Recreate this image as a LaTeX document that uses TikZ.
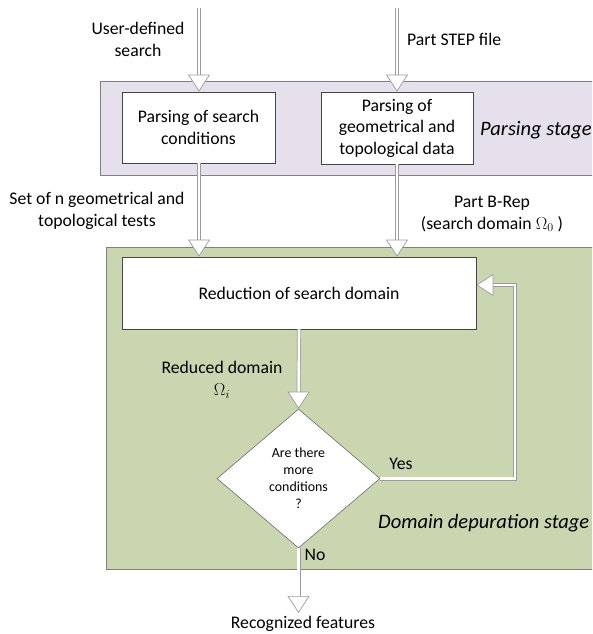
\documentclass[tikz,border=0pt]{standalone}
\usepackage{fontspec}
\setmainfont{Carlito}
\usepackage{tikz}
\usetikzlibrary{calc,positioning,arrows.meta,shapes.geometric,backgrounds}
\definecolor{parsefill}{RGB}{230,224,236}
\definecolor{depurfill}{RGB}{202,214,176}
\definecolor{bandline}{RGB}{128,128,128}
\definecolor{boxline}{RGB}{70,70,70}
\definecolor{flowline}{RGB}{155,155,155}
\tikzset{
  stageband/.style={
      draw=bandline,
      line width=0.8pt,
  },
  procbox/.style={
      draw=boxline,
      fill=white,
      line width=0.7pt,
      align=center,
      inner sep=0pt,
      font=\fontsize{17.7}{21.5}\selectfont,
  },
  decision/.style={
      diamond,
      draw=boxline!80,
      fill=white,
      line width=0.6pt,
      inner sep=0pt,
      aspect=1.17,
      minimum width=163pt,
      minimum height=139pt,
      align=center,
      font=\fontsize{13.9}{17}\selectfont,
  },
  lbl/.style={
      align=center,
      inner sep=0pt,
      font=\fontsize{17.7}{22}\selectfont,
  },
  stagelbl/.style={
      anchor=west,
      inner sep=0pt,
      font=\fontsize{20.5}{24}\selectfont\itshape,
  },
  flow/.style={
      draw=flowline,
      line width=0.7pt,
      double=white,
      double distance=2.6pt,
      -{Triangle[open,length=17pt,width=22pt,fill=white]},
  },
}

\begin{document}
\begin{tikzpicture}[x=1pt,y=-1pt]
  \useasboundingbox (0,0) rectangle (592,634);
  \clip (0,0) rectangle (592,634);

  % stage bands
  \draw[stageband,fill=parsefill] (100,81) rectangle (600,175);
  \draw[stageband,fill=depurfill] (106,247) rectangle (600,569);

  \node[procbox,minimum width=153pt,minimum height=71pt] (srch) at (198.5,127.5) {Parsing of search\\conditions};
  \node[procbox,minimum width=152pt,minimum height=72pt] (geom) at (397,128) {Parsing of\\geometrical and\\topological data};
  \node[procbox,minimum width=354pt,minimum height=72pt] (reduc) at (299,293) {Reduction of search domain};
  \node[decision] (cond) at (298.5,478.5) {Are there\\more\\conditions\\?};

  \node[stagelbl] (parslbl) at (480,130) {Parsing stage};
  \node[stagelbl] (depurlbl) at (378,523) {Domain depuration stage};

  \node[lbl] (userlbl) at (138,39) {User-defined\\search};
  \node[lbl,anchor=west] (steplbl) at (407,39) {Part STEP file};
  \node[lbl] (testslbl) at (97,211) {Set of n geometrical and\\topological tests};
  \node[lbl] (breplbl) at (492,214) {Part B-Rep\\(search domain $\Omega_0$ )};
  \node[lbl] (redlbl) at (222,380) {Reduced domain\\$\Omega_i$};
  \node[lbl] (yeslbl) at (401,464) {Yes};
  \node[lbl] (nolbl) at (315,555) {No};
  \node[lbl] (featlbl) at (303,624) {Recognized features};

  \coordinate (userin) at (199,8);
  \coordinate (stepin) at (397,8);
  \coordinate (loopc) at (515,285);
  \coordinate (featout) at (298.5,613);

  \draw[flow] (userin) -- (userin |- srch.north);
  \draw[flow] (stepin) -- (geom.north);
  \draw[flow] (userin |- srch.south) -- (userin |- reduc.north);
  \draw[flow] (geom.south) -- (geom.south |- reduc.north);
  \draw[flow] (reduc.south) -- (cond.north);
  \draw[flow] (cond.east) -| (loopc) -- (reduc.east |- loopc);
  \draw[flow] (cond.south) -- (featout);
\end{tikzpicture}
\end{document}
